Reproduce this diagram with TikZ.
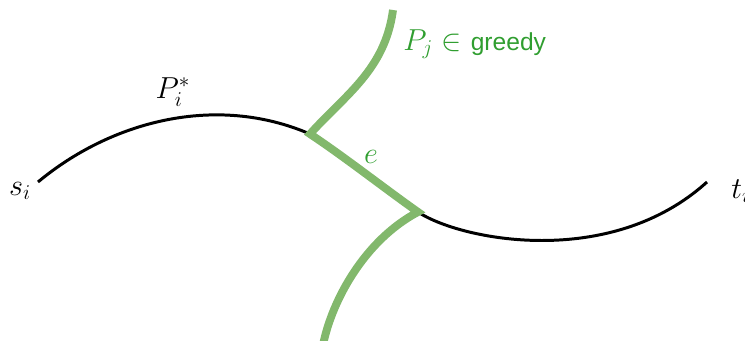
\documentclass[tikz,border=0pt]{standalone}
\usepackage{fontspec}
\newfontfamily\labelsans{Liberation Sans}
\definecolor{pathgreen}{RGB}{130,184,108}
\definecolor{textgreen}{RGB}{48,158,48}
\begin{document}
\begin{tikzpicture}[
    x=0.02cm, y=-0.02cm,
    opt/.style={line width=1.7pt, black},
    grd/.style={line width=4.5pt, pathgreen, line join=miter},
    every node/.style={font=\fontsize{17}{19}\selectfont, inner sep=0pt}
  ]
  \useasboundingbox (0,0) rectangle (745,341);
  \coordinate (s) at (38,182);
  \coordinate (a) at (310,134);
  \coordinate (b) at (418,212);
  \coordinate (t) at (707,182);
  \coordinate (top) at (393,10);
  \coordinate (bot) at (323,345);
  \draw[opt] (s) .. controls (110,122) and (215,93) .. (a)
    .. controls (346,158) and (384,188) .. (b)
    .. controls (460,240) and (610,270) .. (t);
  \draw[grd] (top) .. controls (385,70) and (345,95) .. (a)
    .. controls (346,158) and (384,188) .. (b)
    .. controls (365,240) and (332,300) .. (bot);
  \node (si) at (20,191) {$s_i$};
  \node[anchor=west] (ti) at (731,191) {$t_i$};
  \node (pi) at (173,92) {$P_i^*$};
  \node[textgreen] (e) at (371,157) {$e$};
  \node[anchor=west, textgreen] (pj) at (403,44) {$P_j \in$ {\labelsans\fontsize{14}{16}\selectfont greedy}};
\end{tikzpicture}
\end{document}
